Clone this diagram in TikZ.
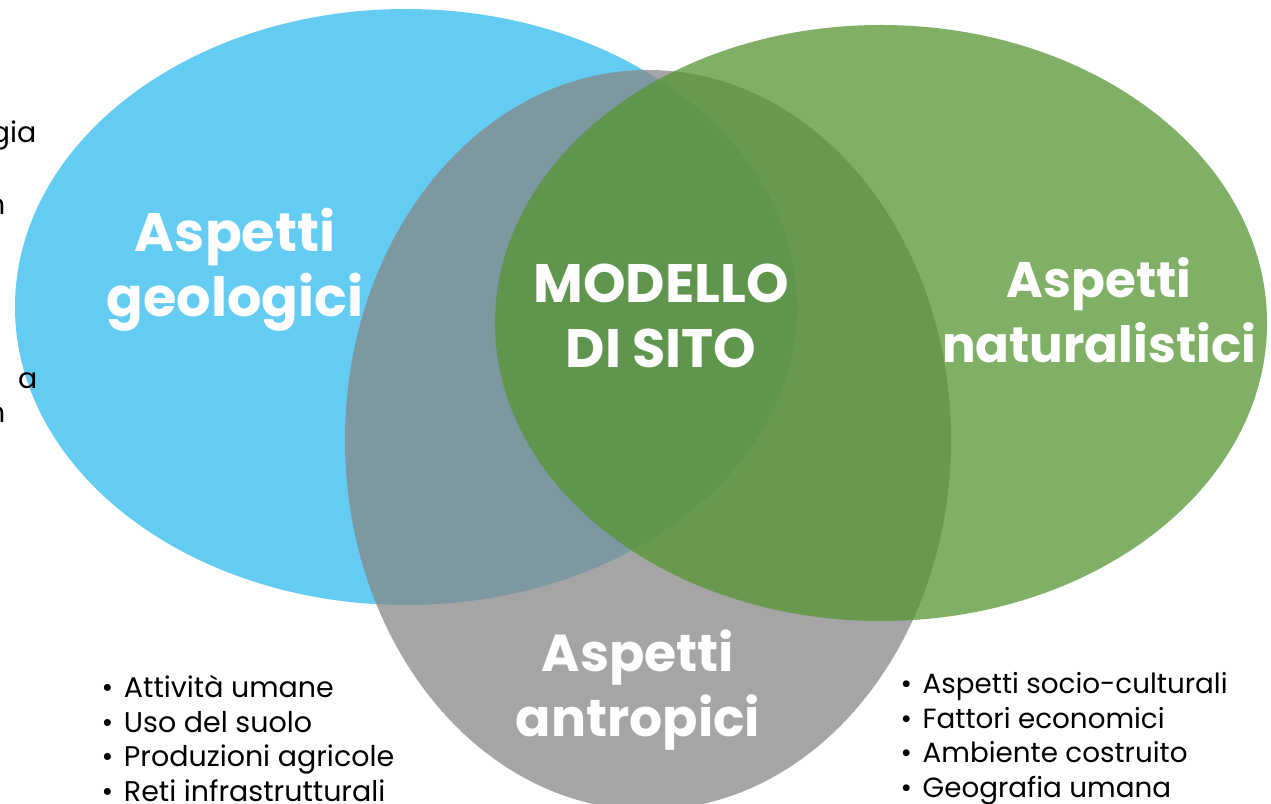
\documentclass[tikz,border=0pt]{standalone}
\usepackage{fontspec}
\setmainfont{Poppins}
\usepackage{tikz}
\usetikzlibrary{positioning}

\definecolor{blu}{RGB}{48,187,238}
\definecolor{grigio}{RGB}{135,135,135}
\definecolor{verde}{RGB}{86,148,51}

\begin{document}
\begin{tikzpicture}[x=0.01cm, y=-0.01cm,
  insieme/.style={fill opacity=0.75},
  titolo/.style={text=white, font=\fontsize{15.4}{18.5}\selectfont\bfseries, align=center},
  elenco/.style={font=\fontsize{8.1}{9.8}\selectfont, align=left, anchor=north west, inner sep=0pt},
  resto/.style={font=\fontsize{8.1}{9.8}\selectfont, anchor=east, inner sep=0pt}]
  \useasboundingbox (0,0) rectangle (1271,804);
  \clip (0,0) rectangle (1271,804);
  % insiemi
  \fill[insieme, blu] (406,307) ellipse [x radius=391, y radius=298];
  \fill[insieme, grigio] (648,440) ellipse [x radius=303, y radius=370];
  \fill[insieme, verde] (881,323) ellipse [x radius=386, y radius=298];
  % titoli
  \node[titolo] (geo) at (235,270) {Aspetti\\geologici};
  \node[titolo] (mod) at (661,316) {MODELLO\\DI SITO};
  \node[titolo, font=\fontsize{14.2}{18.5}\selectfont\bfseries] (nat) at (1099,310) {Aspetti\\naturalistici};
  \node[titolo, font=\fontsize{14.8}{18.5}\selectfont\bfseries] (ant) at (638,690) {Aspetti\\antropici};
  % elenchi
  \node[elenco] (sx) at (101,675) {•\hspace{3pt}Attività umane\\•\hspace{3pt}Uso del suolo\\•\hspace{3pt}Produzioni agricole\\•\hspace{3pt}Reti infrastrutturali};
  \node[elenco, font=\fontsize{7.9}{9.8}\selectfont] (dx) at (900,672) {•\hspace{3pt}Aspetti socio-culturali\\•\hspace{3pt}Fattori economici\\•\hspace{3pt}Ambiente costruito\\•\hspace{3pt}Geografia umana};
  % testo tagliato a sinistra
  \node[resto] (r1) at (37,136) {gia};
  \node[resto] (r2) at (6,207) {n};
  \node[resto] (r3) at (38,381) {a};
  \node[resto] (r4) at (6,415) {n};
\end{tikzpicture}
\end{document}
